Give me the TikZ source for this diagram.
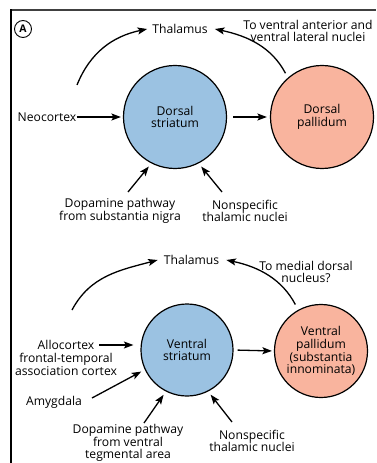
\documentclass[tikz,border=0pt]{standalone}
\usepackage{fontspec}
\setmainfont{Open Sans}
\usetikzlibrary{arrows.meta}
\definecolor{stblue}{RGB}{155,194,226}
\definecolor{palpink}{RGB}{249,180,158}
\begin{document}
\begin{tikzpicture}[x=1bp,y=-1bp,
  lbl/.style={font=\fontsize{12.2}{12.8}\selectfont, inner sep=0pt, align=center},
  nuc/.style={circle, draw=black, line width=1.2bp, inner sep=0pt, align=center,
    font=\fontsize{12.2}{12.8}\selectfont},
  arr/.style={line width=1.3bp, -{Stealth[length=9.5bp,width=7bp,inset=2bp]}},
]
\useasboundingbox (0,0) rectangle (376,463);
\draw[line width=1.1bp, black!75] (11,10) -- (376,10);
\draw[line width=1.7bp] (11,463) -- (11,9.5);
\node[circle, draw, line width=0.9bp, inner sep=0pt, minimum size=17bp,
  font=\bfseries\fontsize{10.5}{10.5}\selectfont] (circA) at (23,29) {A};

% ---------- top panel ----------
\node[lbl] (thal1) at (180,29) {Thalamus};
\node[lbl] (tova) at (308,31) {To ventral anterior and\\ventral lateral nuclei};
\node[nuc, fill=stblue, minimum size=103bp] (ds) at (175,117) {Dorsal\\striatum};
\node[nuc, fill=palpink, minimum size=103bp] (dp) at (322,117) {Dorsal\\pallidum};
\node[lbl] (neo) at (47,117) {Neocortex};
\node[lbl] (dop1) at (120,211) {Dopamine pathway\\from substantia nigra};
\node[lbl] (nsp1) at (245,211) {Nonspecific\\thalamic nuclei};
\coordinate (tl) at (77,85);
\coordinate (dopA) at (128,192);
\coordinate (nspA) at (222,192);

\draw[arr, shorten <=0bp, shorten >=2bp] (neo.east) -- (ds.west);
\draw[arr, shorten <=6bp, shorten >=3bp] (ds.east) -- (dp.west);
\draw[arr] (tl) to[out=68,in=192] ([xshift=-5bp]thal1.west);
\draw[arr, shorten <=5bp] (dp.131) to[out=118,in=-12] ([xshift=7bp]thal1.east);
\draw[arr, shorten >=4bp] (dopA) -- (ds.243);
\draw[arr, shorten >=4bp] (nspA) -- (ds.297);

% ---------- bottom panel ----------
\node[lbl] (thal2) at (191.5,260) {Thalamus};
\node[lbl] (tomd) at (306,272) {To medial dorsal\\nucleus?};
\node[nuc, fill=stblue, minimum size=92bp] (vs) at (187,350) {Ventral\\striatum};
\node[nuc, fill=palpink, minimum size=93bp] (vp) at (321,351) {Ventral\\pallidum\\(substantia\\innominata)};
\node[lbl] (allo) at (66,358) {Allocortex\\frontal-temporal\\association cortex};
\node[lbl] (amy) at (54,402) {Amygdala};
\node[lbl] (dop2) at (128,443) {Dopamine pathway\\from ventral\\tegmental area};
\node[lbl] (nsp2) at (252,441) {Nonspecific\\thalamic nuclei};
\coordinate (bl) at (72,310);
\coordinate (alloA) at (99,345);
\coordinate (amyA) at (92,398);
\coordinate (dopB) at (144,423);
\coordinate (nspB) at (232,422);

\draw[arr, shorten >=7bp] (alloA) -- (vs.west |- alloA);
\draw[arr, shorten >=4bp] (amyA) -- (vs.205);
\draw[arr, shorten <=4bp, shorten >=2bp] (vs.east) -- (vp.west);
\draw[arr] (bl) to[out=62,in=195] ([xshift=-6bp]thal2.west);
\draw[arr, shorten <=6bp] (vp.119) to[out=118,in=-12] ([xshift=7bp]thal2.east);
\draw[arr, shorten >=4bp] (dopB) -- (vs.243);
\draw[arr, shorten >=4bp] (nspB) -- (vs.297);
\end{tikzpicture}
\end{document}
